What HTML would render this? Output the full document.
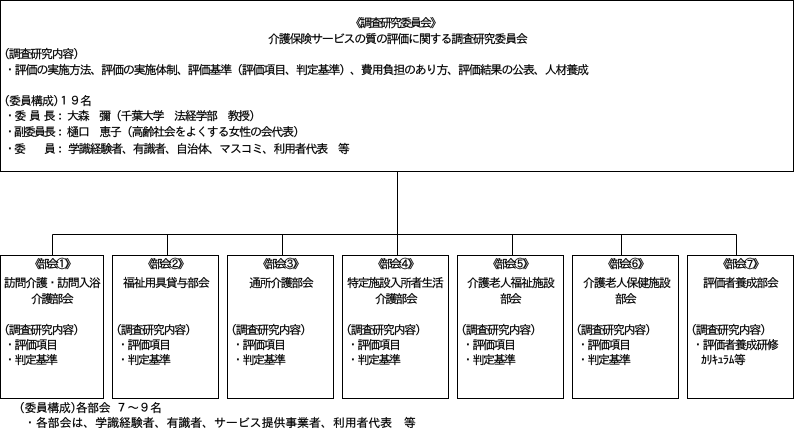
<!DOCTYPE html>
<html lang="ja"><head><meta charset="utf-8">
<style>
html,body{margin:0;padding:0;background:#fff}
svg{display:block}
text{font-family:"IPAGothic","Liberation Sans","Noto Sans CJK JP",sans-serif;font-size:12px;fill:#000;stroke:#000;stroke-width:.2}
rect{fill:#fff;stroke:#000;stroke-width:1}
path{fill:none;stroke:#000;stroke-width:1}
</style></head><body>
<svg width="794" height="428" viewBox="0 0 794 428" xmlns="http://www.w3.org/2000/svg">
<path d="M397.5 171V234.5M52.5 234.5H736.5M52.5 234.5V255M167.5 234.5V255M282.5 234.5V255M397.5 234.5V255M512.5 234.5V255M621.5 234.5V255M736.5 234.5V255"/>
<rect x="0.5" y="0.5" width="793" height="171"/>
<rect x="0.5" y="255.5" width="103" height="143"/>
<rect x="112.5" y="255.5" width="106" height="143"/>
<rect x="227.5" y="255.5" width="106" height="143"/>
<rect x="342.5" y="255.5" width="106" height="143"/>
<rect x="457.5" y="255.5" width="106" height="143"/>
<rect x="572.5" y="255.5" width="106" height="143"/>
<rect x="687.5" y="255.5" width="106" height="143"/>

<text x="350" y="27" textLength="92" lengthAdjust="spacing">《調査研究委員会》</text>
<text x="268" y="43" textLength="260" lengthAdjust="spacing">介護保険サービスの質の評価に関する調査研究委員会</text>
<text x="4" y="58" textLength="75" lengthAdjust="spacing">(調査研究内容)</text>
<text x="4" y="74" textLength="585" lengthAdjust="spacing">・評価の実施方法、評価の実施体制、評価基準（評価項目、判定基準）、費用負担のあり方、評価結果の公表、人材養成</text>
<text x="4" y="105" textLength="88" lengthAdjust="spacing">(委員構成)１９名</text>
<text x="4" y="120" textLength="62" lengthAdjust="spacing">・委 員 長：</text>
<text x="67" y="120" textLength="194" lengthAdjust="spacing">大森　彌（千葉大学　法経学部　教授）</text>
<text x="4" y="136" textLength="62" lengthAdjust="spacing">・副委員長：</text>
<text x="67" y="136" textLength="238" lengthAdjust="spacing">樋口　恵子（高齢社会をよくする女性の会代表）</text>
<text x="4" y="153" textLength="62" lengthAdjust="spacing">・委　　員：</text>
<text x="68" y="153" textLength="282" lengthAdjust="spacing">学識経験者、有識者、自治体、マスコミ、利用者代表　等</text>

<text x="29" y="268" textLength="48" lengthAdjust="spacing">《部会①》</text>
<text x="4" y="287" textLength="97" lengthAdjust="spacing">訪問介護・訪問入浴</text>
<text x="31" y="303" textLength="43" lengthAdjust="spacing">介護部会</text>
<text x="4" y="334" textLength="75" lengthAdjust="spacing">(調査研究内容)</text>
<text x="4" y="349" textLength="54" lengthAdjust="spacing">・評価項目</text>
<text x="4" y="364" textLength="54" lengthAdjust="spacing">・判定基準</text>

<text x="142" y="268" textLength="48" lengthAdjust="spacing">《部会②》</text>
<text x="123" y="287" textLength="87" lengthAdjust="spacing">福祉用具貸与部会</text>
<text x="116" y="334" textLength="75" lengthAdjust="spacing">(調査研究内容)</text>
<text x="117" y="349" textLength="54" lengthAdjust="spacing">・評価項目</text>
<text x="117" y="364" textLength="54" lengthAdjust="spacing">・判定基準</text>

<text x="257" y="268" textLength="48" lengthAdjust="spacing">《部会③》</text>
<text x="249" y="287" textLength="65" lengthAdjust="spacing">通所介護部会</text>
<text x="231" y="334" textLength="75" lengthAdjust="spacing">(調査研究内容)</text>
<text x="232" y="349" textLength="54" lengthAdjust="spacing">・評価項目</text>
<text x="232" y="364" textLength="54" lengthAdjust="spacing">・判定基準</text>

<text x="372" y="268" textLength="48" lengthAdjust="spacing">《部会④》</text>
<text x="347" y="287" textLength="97" lengthAdjust="spacing">特定施設入所者生活</text>
<text x="375" y="303" textLength="43" lengthAdjust="spacing">介護部会</text>
<text x="346" y="334" textLength="75" lengthAdjust="spacing">(調査研究内容)</text>
<text x="347" y="349" textLength="54" lengthAdjust="spacing">・評価項目</text>
<text x="347" y="364" textLength="54" lengthAdjust="spacing">・判定基準</text>

<text x="487" y="268" textLength="48" lengthAdjust="spacing">《部会⑤》</text>
<text x="467" y="287" textLength="88" lengthAdjust="spacing">介護老人福祉施設</text>
<text x="500" y="303" textLength="22" lengthAdjust="spacing">部会</text>
<text x="461" y="334" textLength="75" lengthAdjust="spacing">(調査研究内容)</text>
<text x="462" y="349" textLength="54" lengthAdjust="spacing">・評価項目</text>
<text x="462" y="364" textLength="54" lengthAdjust="spacing">・判定基準</text>

<text x="602" y="268" textLength="48" lengthAdjust="spacing">《部会⑥》</text>
<text x="583" y="287" textLength="88" lengthAdjust="spacing">介護老人保健施設</text>
<text x="615" y="303" textLength="22" lengthAdjust="spacing">部会</text>
<text x="576" y="334" textLength="75" lengthAdjust="spacing">(調査研究内容)</text>
<text x="577" y="349" textLength="54" lengthAdjust="spacing">・評価項目</text>
<text x="577" y="364" textLength="54" lengthAdjust="spacing">・判定基準</text>

<text x="717" y="268" textLength="48" lengthAdjust="spacing">《部会⑦》</text>
<text x="703" y="287" textLength="76" lengthAdjust="spacing">評価者養成部会</text>
<text x="691" y="334" textLength="75" lengthAdjust="spacing">(調査研究内容)</text>
<text x="692" y="349" textLength="87" lengthAdjust="spacing">・評価者養成研修</text>
<text x="701" y="364" textLength="45" lengthAdjust="spacing">ｶﾘｷｭﾗﾑ等</text>

<text x="19" y="412" textLength="143" lengthAdjust="spacing">(委員構成)各部会 ７～９名</text>
<text x="24" y="427" textLength="392" lengthAdjust="spacing">・各部会は、学識経験者、有識者、サービス提供事業者、利用者代表　等</text>
</svg>
</body></html>
